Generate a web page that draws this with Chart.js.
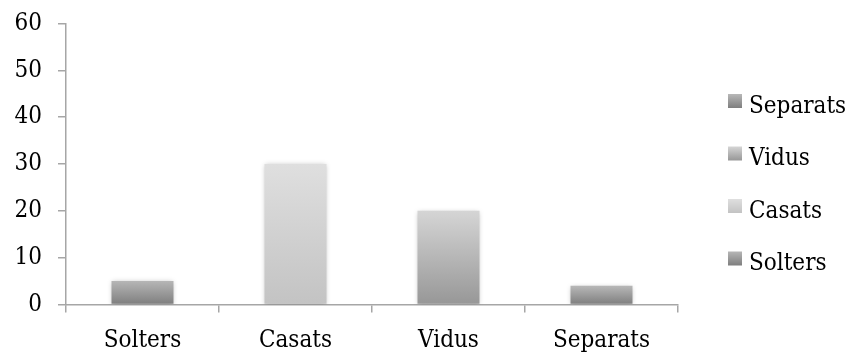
<!DOCTYPE html>
<html>
<head>
<meta charset="utf-8">
<script src="https://cdn.jsdelivr.net/npm/chart.js@4/dist/chart.umd.min.js"></script>
<style>
  html, body { margin: 0; padding: 0; background: #ffffff; }
  #wrap { width: 847px; height: 354px; }
</style>
</head>
<body>
<div id="wrap"><canvas id="chart" width="847" height="354"></canvas></div>
<script>
// Estat civil: one series per category, each bar sits on its own category
const categories = ['Solters', 'Casats', 'Vidus', 'Separats'];
const seriesNames = ['Solters', 'Casats', 'Vidus', 'Separats'];
const seriesValues = [5, 30, 20, 4];
const yTicks = [0, 10, 20, 30, 40, 50, 60];

// Vertical gradient stops (top, bottom) for each series
const shades = [
  ['#b6b6b6', '#7e7e7e'],
  ['#dfdfdf', '#c3c3c3'],
  ['#d5d5d5', '#979797'],
  ['#b8b8b8', '#7e7e7e']
];

const FONT = '"DejaVu Serif Condensed", "Liberation Serif", serif';
const FONT_SIZE = 24;
const AXIS = '#a6a6a6';

function barGradient(context, i) {
  const chart = context.chart;
  const area = chart.chartArea;
  if (!area) return shades[i][1];
  const y = chart.scales.y;
  const v = context.raw == null ? 0 : context.raw;
  const top = y.getPixelForValue(v);
  const bottom = y.getPixelForValue(0);
  const g = chart.ctx.createLinearGradient(0, top, 0, bottom);
  g.addColorStop(0, shades[i][0]);
  g.addColorStop(1, shades[i][1]);
  return g;
}

const datasets = seriesNames.map((name, i) => ({
  label: name,
  data: categories.map((c, j) => (j === i ? seriesValues[i] : null)),
  backgroundColor: (ctx) => barGradient(ctx, i),
  borderWidth: 0,
  barPercentage: 0.405,
  categoryPercentage: 1
}));

// Soft drop shadow behind the bars
const barShadow = {
  id: 'barShadow',
  beforeDatasetsDraw(chart) {
    const ctx = chart.ctx;
    ctx.save();
    ctx.shadowColor = 'rgba(0,0,0,0.28)';
    ctx.shadowBlur = 5;
    ctx.shadowOffsetX = 0;
    ctx.shadowOffsetY = 1;
  },
  afterDatasetsDraw(chart) {
    chart.ctx.restore();
  }
};

// Legend on the right, listed from last series to first
const sideLegend = {
  id: 'sideLegend',
  afterDraw(chart) {
    const ctx = chart.ctx;
    const n = chart.data.datasets.length;
    const x0 = 728, top0 = 94, step = 52.5, box = 14;
    ctx.save();
    ctx.font = FONT_SIZE + 'px ' + FONT;
    ctx.textBaseline = 'alphabetic';
    ctx.textAlign = 'left';
    for (let k = 0; k < n; k++) {
      const i = n - 1 - k;
      const yTop = top0 + k * step;
      const g = ctx.createLinearGradient(0, yTop, 0, yTop + box);
      g.addColorStop(0, shades[i][0]);
      g.addColorStop(1, shades[i][1]);
      ctx.fillStyle = g;
      ctx.fillRect(x0, yTop, box, box);
      ctx.fillStyle = '#000';
      ctx.fillText(chart.data.datasets[i].label, x0 + 21, yTop + 18.5);
    }
    ctx.restore();
  }
};

new Chart(document.getElementById('chart'), {
  type: 'bar',
  data: { labels: categories, datasets },
  plugins: [barShadow, sideLegend],
  options: {
    responsive: false,
    animation: false,
    layout: { padding: { top: 23.5, right: 169, bottom: 0, left: 0 } },
    plugins: {
      legend: { display: false },
      tooltip: { enabled: false }
    },
    scales: {
      x: {
        stacked: true,
        offset: true,
        grid: {
          offset: true,
          drawOnChartArea: false,
          drawTicks: true,
          tickLength: 8,
          color: AXIS,
          lineWidth: 1.5
        },
        border: { color: AXIS, width: 1.5 },
        ticks: {
          color: '#000',
          font: { family: FONT, size: FONT_SIZE },
          padding: 14,
          maxRotation: 0
        },
        afterFit(scale) {
          scale.height = 49.5;
          scale.paddingLeft = 0;
          scale.paddingRight = 0;
        }
      },
      y: {
        stacked: true,
        min: 0,
        max: 60,
        afterBuildTicks(scale) {
          scale.ticks = yTicks.map(v => ({ value: v }));
        },
        grid: {
          drawOnChartArea: false,
          drawTicks: true,
          tickLength: 8,
          color: AXIS,
          lineWidth: 1.5
        },
        border: { color: AXIS, width: 1.5 },
        ticks: {
          color: '#000',
          font: { family: FONT, size: FONT_SIZE },
          padding: 16
        },
        afterFit(scale) {
          scale.width = 66;
          scale.paddingTop = 0;
          scale.paddingBottom = 0;
        }
      }
    }
  }
});
</script>
</body>
</html>
